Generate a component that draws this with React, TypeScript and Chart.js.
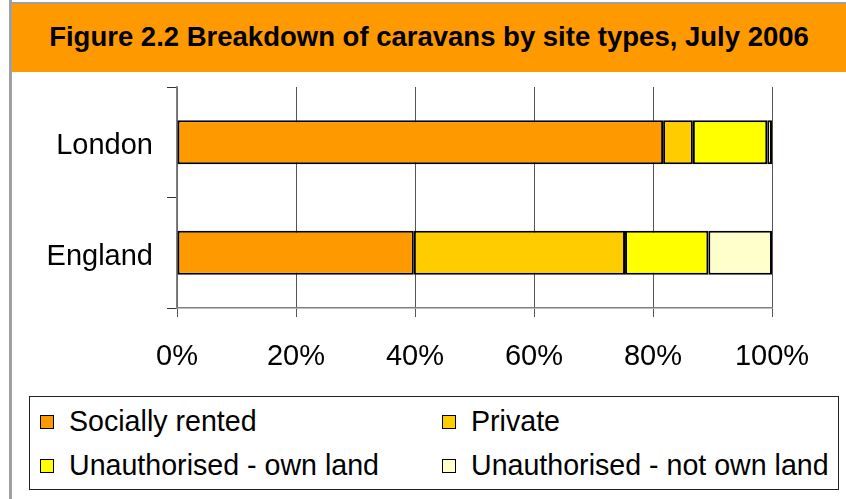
import React, { useEffect, useRef } from "react";
import { Chart, registerables } from "chart.js";

Chart.register(...registerables);

const TITLE = "Figure 2.2 Breakdown of caravans by site types, July 2006";
const categories = ["London", "England"];
const seriesNames = [
  "Socially rented",
  "Private",
  "Unauthorised - own land",
  "Unauthorised - not own land",
];
const sociallyRented = [81.7, 39.8];
const privateSites = [5.0, 35.5];
const unauthorisedOwnLand = [12.5, 14.0];
const unauthorisedNotOwnLand = [0.8, 10.7];
const xTicks = [0, 20, 40, 60, 80, 100];

const colors = ["#FF9900", "#FFCC00", "#FFFF00", "#FFFFCC"];
const FONT = "'Liberation Sans', Arial, sans-serif";

export default function App() {
  const ref = useRef<HTMLCanvasElement | null>(null);

  useEffect(() => {
    if (!ref.current) return;
    const values = [sociallyRented, privateSites, unauthorisedOwnLand, unauthorisedNotOwnLand];
    const chart = new Chart(ref.current, {
      type: "bar",
      data: {
        labels: categories,
        datasets: values.map((v, i) => ({
          label: seriesNames[i],
          data: v,
          backgroundColor: colors[i],
          borderColor: "#000000",
          borderWidth: 2,
          borderSkipped: false,
          categoryPercentage: 1,
          barPercentage: 0.4,
        })),
      },
      options: {
        indexAxis: "y",
        responsive: false,
        animation: false,
        layout: { padding: { top: 87, right: 74, left: 0, bottom: 0 } },
        plugins: { legend: { display: false }, tooltip: { enabled: false }, title: { display: false } },
        scales: {
          x: {
            stacked: true,
            min: 0,
            max: 100,
            afterFit: (s: any) => { s.height = 191; },
            afterBuildTicks: (s: any) => { s.ticks = xTicks.map((v) => ({ value: v })); },
            ticks: {
              callback: (v: any) => v + "%",
              color: "#000",
              font: { family: FONT, size: 29 },
              padding: 23,
              maxRotation: 0,
            },
            grid: { color: "#555555", lineWidth: 1, tickLength: 9 },
            border: { display: true, color: "#808080", width: 1.5 },
          },
          y: {
            stacked: true,
            afterFit: (s: any) => { s.width = 177; },
            ticks: {
              color: "#000",
              font: { family: FONT, size: 29 },
              padding: 14,
              labelOffset: 4,
            },
            grid: { drawOnChartArea: false, offset: true, color: "#333333", tickLength: 10 },
            border: { display: true, color: "#808080", width: 1.5 },
          },
        },
      },
    });
    return () => chart.destroy();
  }, []);

  const legendItem = (i: number, x: number, y: number) => (
    <div key={i} style={{ position: "absolute", left: x, top: y, height: 34, display: "flex", alignItems: "center", whiteSpace: "nowrap" }}>
      <div style={{ width: 12, height: 12, background: colors[i], border: "1px solid #000", marginRight: 15, marginTop: 2 }} />
      <span style={{ fontFamily: FONT, fontSize: 28.6, lineHeight: "34px", color: "#000" }}>{seriesNames[i]}</span>
    </div>
  );

  return (
    <div style={{ position: "fixed", left: 0, top: 0, width: 846, height: 499, background: "#fff", overflow: "hidden" }}>
      <div style={{ position: "absolute", left: 9, top: 0, width: 3, height: 499, background: "#A0A0A0" }} />
      <div style={{ position: "absolute", left: 9, top: 2, width: 837, height: 2, background: "#A0A0A0" }} />
      <div
        style={{
          position: "absolute", left: 12, top: 4, width: 834, height: 66, paddingBottom: 2, background: "#FF9900",
          display: "flex", alignItems: "center", justifyContent: "center",
          fontFamily: FONT, fontWeight: "bold", fontSize: 27.5, color: "#000",
        }}
      >
        {TITLE}
      </div>
      <div style={{ position: "absolute", left: 29, top: 396, width: 808, height: 92, border: "1px solid #222" }} />
      {legendItem(0, 40, 404)}
      {legendItem(1, 442, 404)}
      {legendItem(2, 40, 448)}
      {legendItem(3, 442, 448)}
      <canvas ref={ref} width={846} height={499} style={{ position: "absolute", left: 0, top: 0, width: 846, height: 499 }} />
    </div>
  );
}
